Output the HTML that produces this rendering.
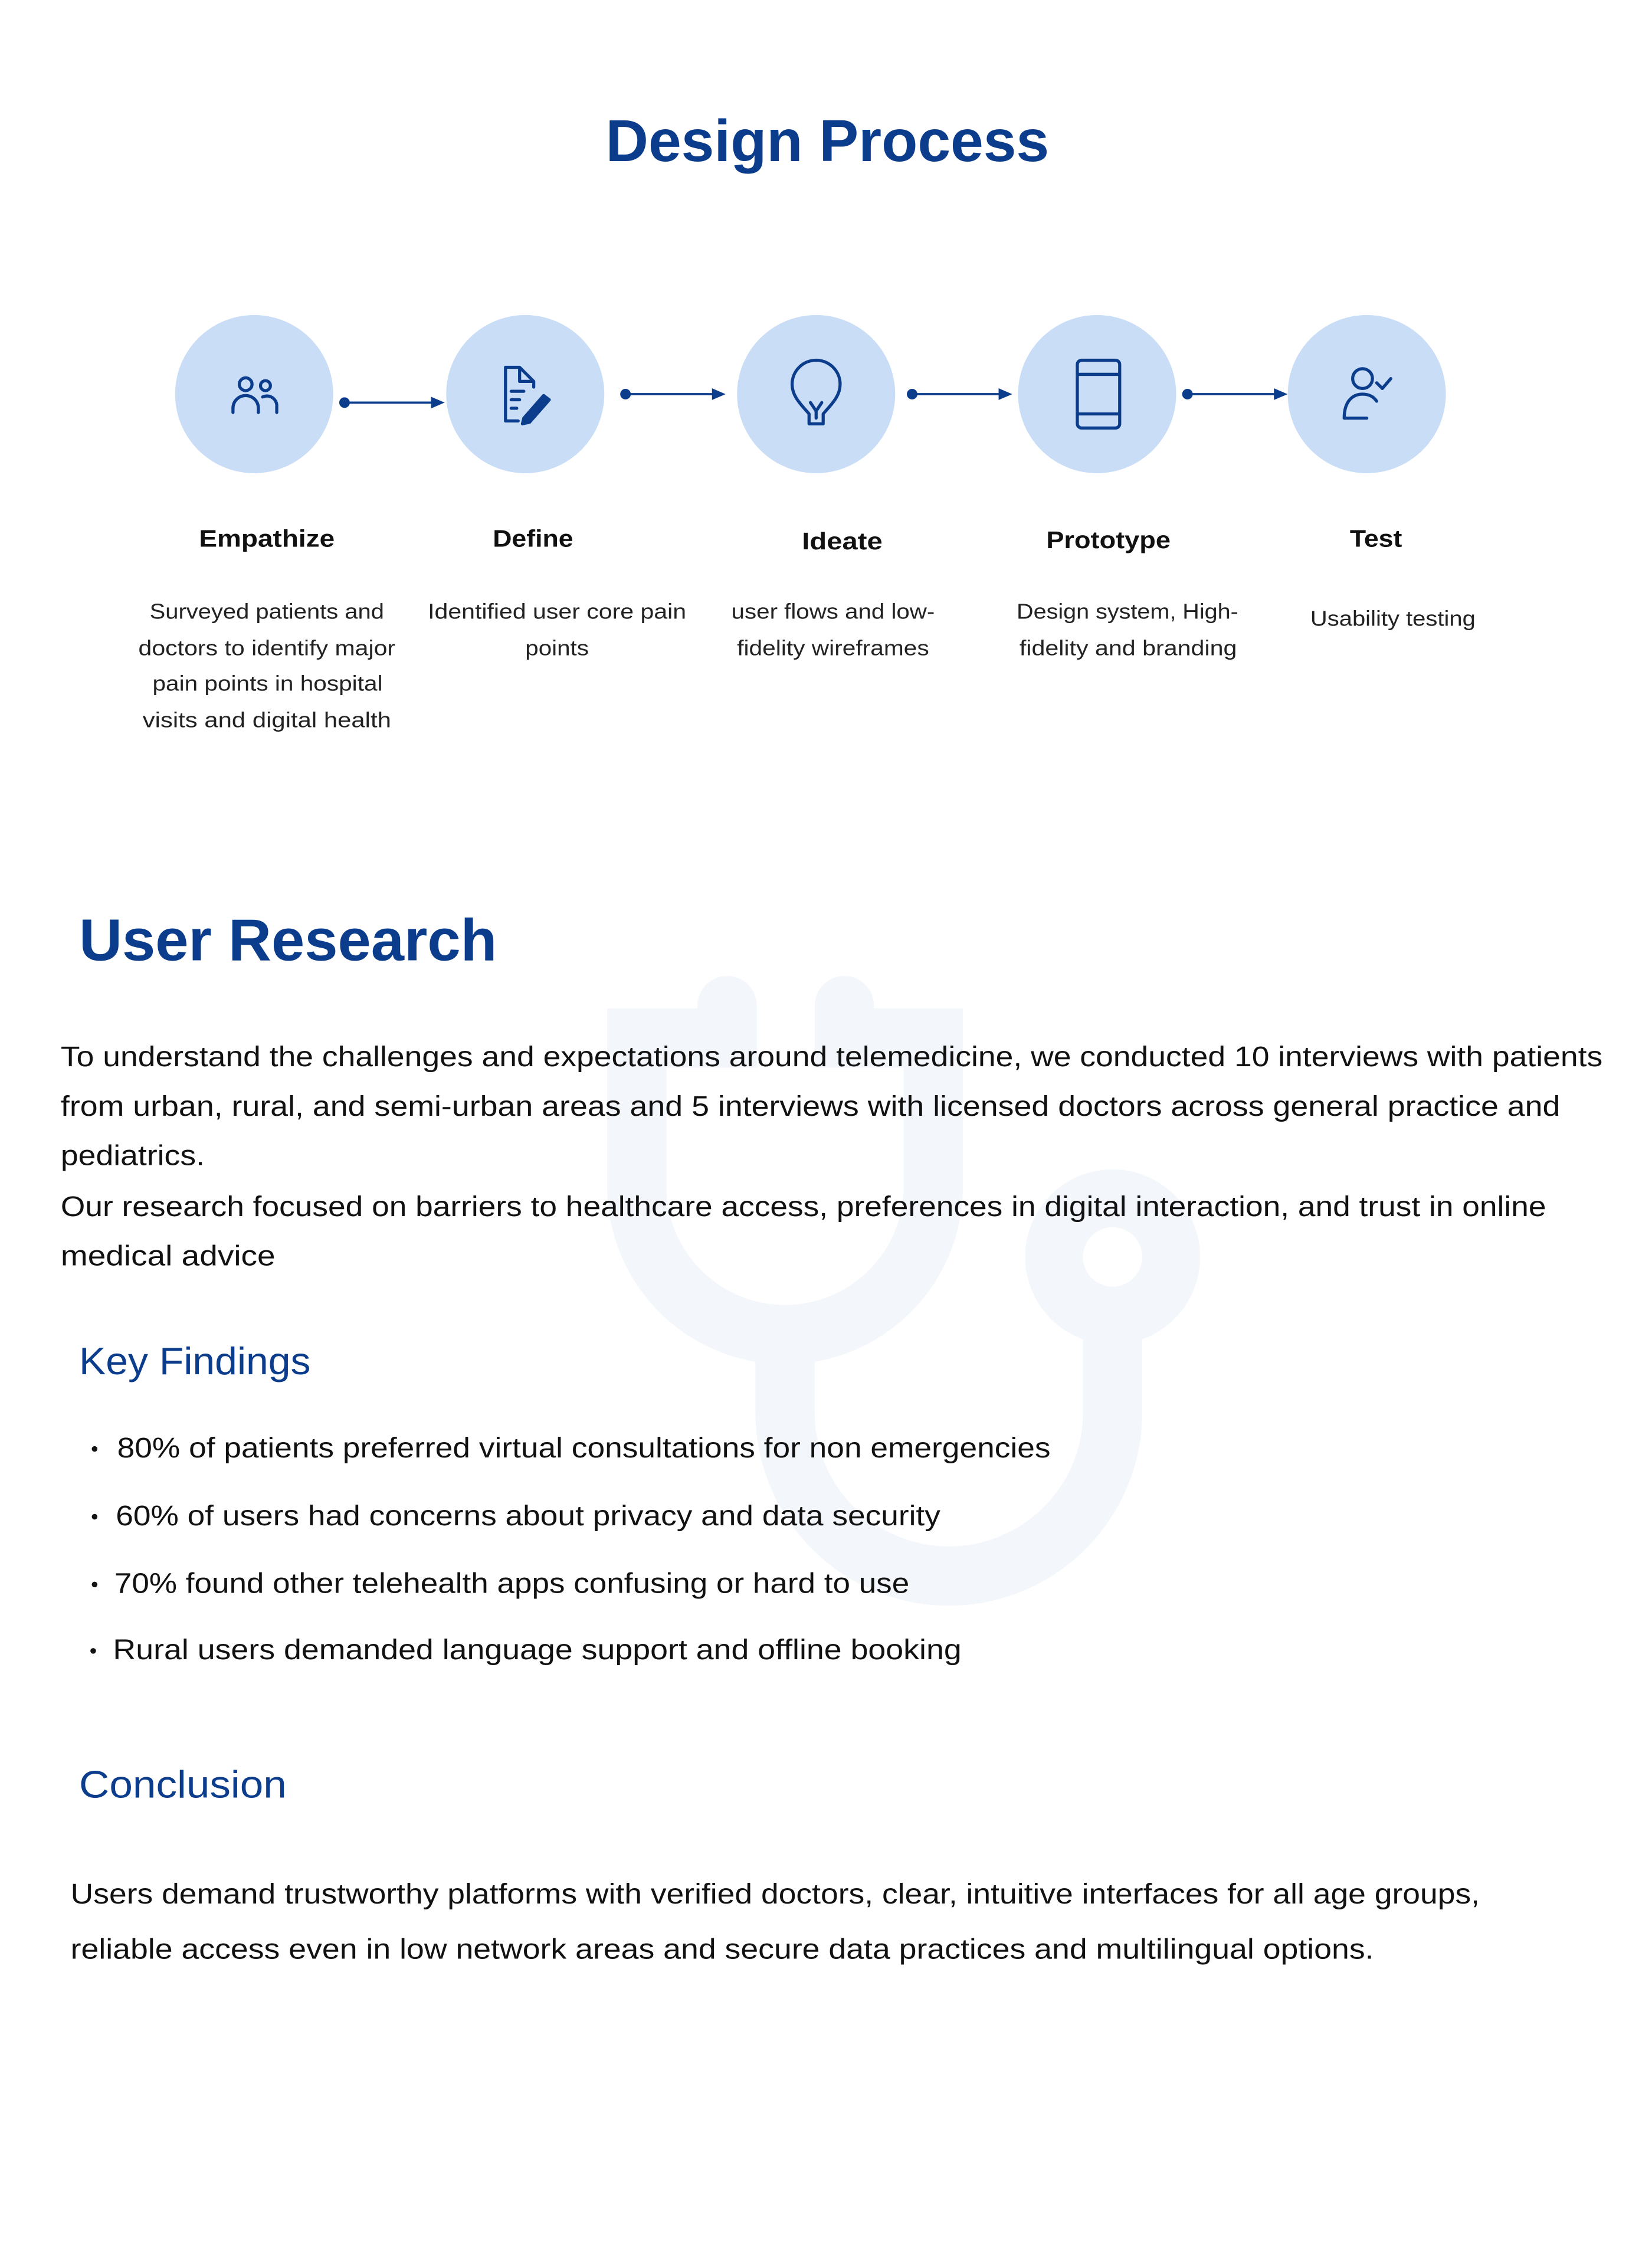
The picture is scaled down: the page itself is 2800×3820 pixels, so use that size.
<!DOCTYPE html>
<html><head><meta charset="utf-8"><style>
html,body{margin:0;padding:0;background:#fff}
svg{display:block}
text{font-family:"Liberation Sans",sans-serif}
</style></head><body>
<svg width="2800" height="3820" viewBox="0 0 1170 1596" xmlns="http://www.w3.org/2000/svg">
<rect width="1170" height="1596" fill="#fff"/>
<!-- watermark stethoscope -->
<g fill="none" stroke="#f3f7fc" stroke-width="42" stroke-linecap="round">
<path d="M515,712 V735 H451 V840 A105,105 0 0 0 661,840 V735 H598 V712"/>
<path d="M556,945 V1000 A116,116 0 0 0 788,1000 V950"/>
</g>
<circle cx="788" cy="890" r="62" fill="#f3f7fc"/>
<circle cx="788" cy="890" r="21" fill="#fff"/>

<text x="429" y="114" font-size="42" font-weight="bold" fill="#0b3d8c" textLength="314" lengthAdjust="spacingAndGlyphs">Design Process</text>

<g fill="#c9ddf7">
<circle cx="180" cy="279" r="56"/><circle cx="372" cy="279" r="56"/><circle cx="578" cy="279" r="56"/><circle cx="777" cy="279" r="56"/><circle cx="968" cy="279" r="56"/>
</g>
<g stroke="#0b3d8c" stroke-width="1.5" fill="#0b3d8c">
<line x1="244" y1="285" x2="308" y2="285"/><circle cx="244" cy="285" r="3"/><path d="M306,282 L313,285 L306,288Z"/>
<line x1="443" y1="279" x2="507" y2="279"/><circle cx="443" cy="279" r="3"/><path d="M505,276 L512,279 L505,282Z"/>
<line x1="646" y1="279" x2="710" y2="279"/><circle cx="646" cy="279" r="3"/><path d="M708,276 L715,279 L708,282Z"/>
<line x1="841" y1="279" x2="905" y2="279"/><circle cx="841" cy="279" r="3"/><path d="M903,276 L910,279 L903,282Z"/>
</g>
<!-- icons -->
<g fill="none" stroke="#0b3d8c" stroke-width="2.2" stroke-linecap="round" stroke-linejoin="round">
<circle cx="174" cy="272" r="4.5"/><circle cx="188" cy="273" r="3.5"/>
<path d="M165,292 V289 A9,9 0 0 1 183,289 V292"/><path d="M186,281 A7,7 0 0 1 196,288 V292"/>
<path d="M368,260 H358 V298 H367 M368,260 L378,270 V274 M368,260 V270 H378"/>
<path d="M362,277 H371 M362,283 H368 M362,289 H366"/>
<path d="M371,296 L385,280 L389,283 L375,299 L370,300Z" fill="#0b3d8c"/>
<path d="M573,300 V293 C568,287 561,281 561,272 A17,17 0 0 1 595,272 C595,281 588,287 583,293 V300 Z M573,300 H583 M574,285 L578,291 L582,285 M578,291 V296"/>
<rect x="763" y="255" width="30" height="48" rx="3"/><path d="M763,265 H793 M763,293 H793"/>
<circle cx="965" cy="268" r="7"/><path d="M952,296 C952,284 958,279 965,279 C970,279 973,281 975,284 M952,296 H968"/><path d="M975,271 L979,275 L985,268"/>
</g>

<g font-size="17" font-weight="bold" fill="#111">
<text x="141" y="387" textLength="96" lengthAdjust="spacingAndGlyphs">Empathize</text>
<text x="349" y="387" textLength="57" lengthAdjust="spacingAndGlyphs">Define</text>
<text x="568" y="389" textLength="57" lengthAdjust="spacingAndGlyphs">Ideate</text>
<text x="741" y="388" textLength="88" lengthAdjust="spacingAndGlyphs">Prototype</text>
<text x="956" y="387" textLength="37" lengthAdjust="spacingAndGlyphs">Test</text>
</g>
<g font-size="15" fill="#222">
<text x="106" y="438" textLength="166" lengthAdjust="spacingAndGlyphs">Surveyed patients and</text>
<text x="98" y="464" textLength="182" lengthAdjust="spacingAndGlyphs">doctors to identify major</text>
<text x="108" y="489" textLength="163" lengthAdjust="spacingAndGlyphs">pain points in hospital</text>
<text x="101" y="515" textLength="176" lengthAdjust="spacingAndGlyphs">visits and  digital health</text>
<text x="303" y="438" textLength="183" lengthAdjust="spacingAndGlyphs">Identified  user core pain</text>
<text x="372" y="464" textLength="45" lengthAdjust="spacingAndGlyphs">points</text>
<text x="518" y="438" textLength="144" lengthAdjust="spacingAndGlyphs">user flows and low-</text>
<text x="522" y="464" textLength="136" lengthAdjust="spacingAndGlyphs">fidelity wireframes</text>
<text x="720" y="438" textLength="157" lengthAdjust="spacingAndGlyphs">Design system, High-</text>
<text x="722" y="464" textLength="154" lengthAdjust="spacingAndGlyphs">fidelity and branding</text>
<text x="928" y="443" textLength="117" lengthAdjust="spacingAndGlyphs">Usability testing</text>
</g>

<text x="56" y="680" font-size="42" font-weight="bold" fill="#0b3d8c" textLength="296" lengthAdjust="spacingAndGlyphs">User Research</text>
<g font-size="20" fill="#111">
<text x="43" y="755" textLength="1092" lengthAdjust="spacingAndGlyphs">To understand the challenges and expectations around telemedicine, we conducted 10 interviews with patients</text>
<text x="43" y="790" textLength="1062" lengthAdjust="spacingAndGlyphs">from urban, rural, and semi-urban areas and 5 interviews with licensed doctors across general practice and</text>
<text x="43" y="825" textLength="102" lengthAdjust="spacingAndGlyphs">pediatrics.</text>
<text x="43" y="861" textLength="1052" lengthAdjust="spacingAndGlyphs">Our research focused on barriers to healthcare access, preferences in digital interaction, and trust in online</text>
<text x="43" y="896" textLength="152" lengthAdjust="spacingAndGlyphs">medical advice</text>
</g>
<text x="56" y="973" font-size="27" fill="#0b3d8c" textLength="164" lengthAdjust="spacingAndGlyphs">Key Findings</text>
<g fill="#111"><circle cx="67" cy="1026" r="2"/><circle cx="67" cy="1074" r="2"/><circle cx="67" cy="1122" r="2"/><circle cx="66" cy="1169" r="2"/></g>
<g font-size="20" fill="#111">
<text x="83" y="1032" textLength="661" lengthAdjust="spacingAndGlyphs">80% of patients preferred virtual consultations for non emergencies</text>
<text x="82" y="1080" textLength="584" lengthAdjust="spacingAndGlyphs">60% of users had concerns about privacy and data security</text>
<text x="81" y="1128" textLength="563" lengthAdjust="spacingAndGlyphs">70% found other telehealth apps confusing or hard to use</text>
<text x="80" y="1175" textLength="601" lengthAdjust="spacingAndGlyphs">Rural users demanded language support and offline booking</text>
</g>
<text x="56" y="1273" font-size="27" fill="#0b3d8c" textLength="147" lengthAdjust="spacingAndGlyphs">Conclusion</text>
<g font-size="20" fill="#111">
<text x="50" y="1348" textLength="998" lengthAdjust="spacingAndGlyphs">Users demand trustworthy platforms with verified doctors, clear, intuitive interfaces for all age groups,</text>
<text x="50" y="1387" textLength="923" lengthAdjust="spacingAndGlyphs">reliable access even in low network areas and secure data practices and multilingual options.</text>
</g>
</svg>
</body></html>
